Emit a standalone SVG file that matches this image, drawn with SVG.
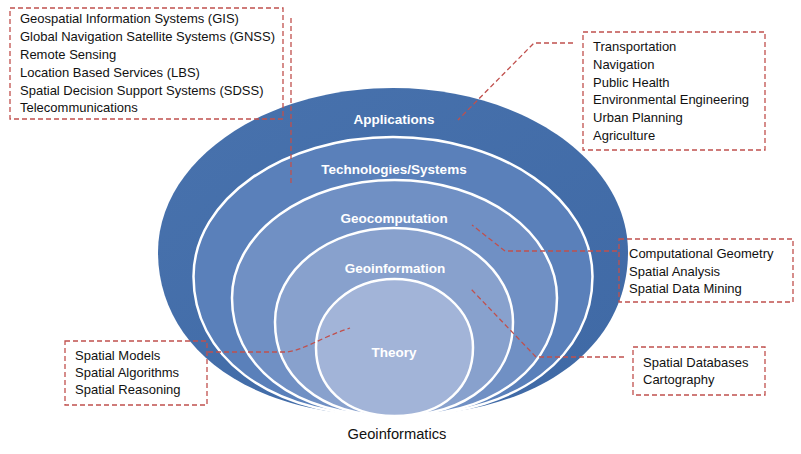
<svg xmlns="http://www.w3.org/2000/svg" width="801" height="454" viewBox="0 0 801 454">
<style>
.layer{stroke:#ffffff;stroke-width:2.5}
.lbl{font-family:"Liberation Sans",Arial,sans-serif;font-size:13.5px;font-weight:bold;fill:#ffffff;text-anchor:middle}
.box{fill:none;stroke:#c0504d;stroke-width:1.3;stroke-dasharray:5,3}
.txt{font-family:"Liberation Sans",Arial,sans-serif;font-size:13px;fill:#111111}
.conn{fill:none;stroke:#c0504d;stroke-width:1.3;stroke-dasharray:5,3}
</style>
<defs>
<linearGradient id="gOuter" x1="0" y1="0" x2="1" y2="1">
<stop offset="0" stop-color="#4872ad"/>
<stop offset="1" stop-color="#3f69a5"/>
</linearGradient>
</defs>
<rect x="0" y="0" width="801" height="454" fill="#ffffff"/>
<g id="applications">
<path d="M393,88 C522.8,88 628,161.4 628,252 C628,342.6 545.75,416 393,416 C240.25,416 158,342.6 158,252 C158,161.4 263.2,88 393,88 Z" fill="url(#gOuter)"/>
<text class="lbl" x="394" y="124">Applications</text>
</g>
<g id="technologies">
<path class="layer" d="M393,137 C503.2,137 592.5,199.5 592.5,276.5 C592.5,353.5 522.7,416 393,416 C263.3,416 193.5,353.5 193.5,276.5 C193.5,199.5 282.8,137 393,137 Z" fill="#5a80ba"/>
<text class="lbl" x="394" y="174">Technologies/Systems</text>
</g>
<g id="geocomputation">
<path class="layer" d="M394.5,180 C484.2,180 557,232.8 557,298 C557,363.2 500.1,416 394.5,416 C288.9,416 232,363.2 232,298 C232,232.8 304.8,180 394.5,180 Z" fill="#7090c4"/>
<text class="lbl" x="394" y="223">Geocomputation</text>
</g>
<g id="geoinformation">
<path class="layer" d="M394,228 C459.7,228 513,270.1 513,322 C513,373.9 471.4,416 394,416 C316.6,416 275,373.9 275,322 C275,270.1 328.3,228 394,228 Z" fill="#88a1cd"/>
<text class="lbl" x="395" y="273">Geoinformation</text>
</g>
<g id="theory">
<path class="layer" d="M394.5,279 C437.9,279 473,309.7 473,347.5 C473,385.3 445.5,416 394.5,416 C343.5,416 316,385.3 316,347.5 C316,309.7 351.1,279 394.5,279 Z" fill="#a2b4d8"/>
<text class="lbl" x="394" y="357">Theory</text>
</g>
<g id="connectors">
<path class="conn" d="M291,18 L291,183"/>
<path class="conn" d="M573,43 L534,43 L458,120"/>
<path class="conn" d="M617,251 L505,251 L472,225"/>
<path class="conn" d="M624,357 L536,357 L470,288"/>
<path class="conn" d="M208,352 L285,352 C300,352 322,337 350,328"/>
</g>
<g id="box-technologies">
<rect class="box" x="10" y="8" width="273" height="111"/>
<text class="txt" x="20" y="23">Geospatial Information Systems (GIS)</text>
<text class="txt" x="20" y="41">Global Navigation Satellite Systems (GNSS)</text>
<text class="txt" x="20" y="59">Remote Sensing</text>
<text class="txt" x="20" y="77">Location Based Services (LBS)</text>
<text class="txt" x="20" y="94.5">Spatial Decision Support Systems (SDSS)</text>
<text class="txt" x="20" y="112">Telecommunications</text>
</g>
<g id="box-applications">
<rect class="box" x="583" y="32" width="182" height="118"/>
<text class="txt" x="593" y="51">Transportation</text>
<text class="txt" x="593" y="68.5">Navigation</text>
<text class="txt" x="593" y="86.5">Public Health</text>
<text class="txt" x="593" y="104">Environmental Engineering</text>
<text class="txt" x="593" y="122">Urban Planning</text>
<text class="txt" x="593" y="140">Agriculture</text>
</g>
<g id="box-geocomputation">
<rect class="box" x="619" y="239" width="174" height="63"/>
<text class="txt" x="629" y="258">Computational Geometry</text>
<text class="txt" x="629" y="276">Spatial Analysis</text>
<text class="txt" x="629" y="293">Spatial Data Mining</text>
</g>
<g id="box-geoinformation">
<rect class="box" x="633" y="347" width="132" height="48"/>
<text class="txt" x="643" y="367">Spatial Databases</text>
<text class="txt" x="643" y="384">Cartography</text>
</g>
<g id="box-theory">
<rect class="box" x="65" y="341" width="142" height="64"/>
<text class="txt" x="75" y="360">Spatial Models</text>
<text class="txt" x="75" y="377">Spatial Algorithms</text>
<text class="txt" x="75" y="394">Spatial Reasoning</text>
</g>
<g id="title">
<text class="txt" x="397" y="439" style="font-size:14.7px;text-anchor:middle">Geoinformatics</text>
</g>
</svg>
